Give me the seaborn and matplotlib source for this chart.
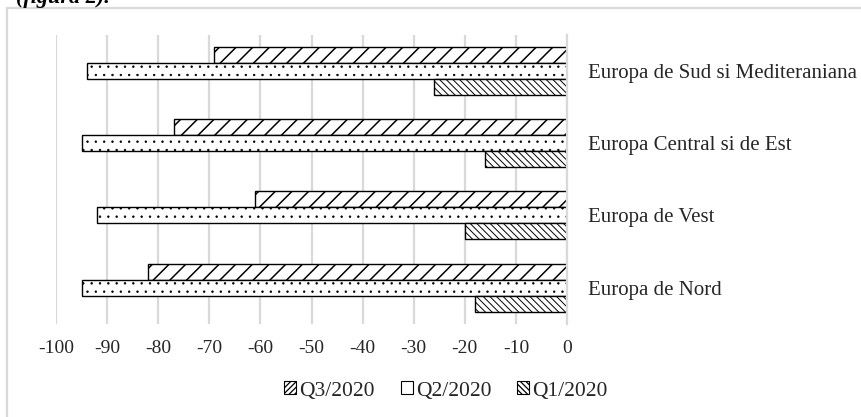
import matplotlib
matplotlib.use("Agg")
import matplotlib.pyplot as plt
from matplotlib.patches import Patch, Rectangle
import pandas as pd
import seaborn as sns

# Regions (top to bottom) and quarterly change, %
regions = ["Europa de Sud si Mediteraniana", "Europa Central si de Est",
           "Europa de Vest", "Europa de Nord"]
periods = ["Q3/2020", "Q2/2020", "Q1/2020"]
q3_2020 = [-69, -77, -61, -82]
q2_2020 = [-94, -95, -92, -95]
q1_2020 = [-26, -16, -20, -18]
x_ticks = list(range(-100, 1, 10))

series = {"Q3/2020": q3_2020, "Q2/2020": q2_2020, "Q1/2020": q1_2020}
df = pd.DataFrame(
    [(r, p, v) for p in periods for r, v in zip(regions, series[p])],
    columns=["region", "period", "value"],
)

sns.set_style("white")
plt.rcParams["font.family"] = ["Liberation Serif", "DejaVu Serif"]
plt.rcParams["hatch.linewidth"] = 0.9
plt.rcParams["hatch.color"] = "black"

W, H = 861, 417
fig = plt.figure(figsize=(W / 100, H / 100), dpi=100)
ax = fig.add_axes([56 / W, 1 - 323.5 / H, 511 / W, 288 / H])

sns.barplot(data=df, x="value", y="region", hue="period",
            order=regions, hue_order=periods, orient="h",
            width=2 / 3, palette=["white"] * 3, saturation=1,
            edgecolor="black", linewidth=1.0, legend=False, ax=ax)

hatches = ["//", "..", "\\\\\\\\\\"]
hatch_widths = [1.1, 0.5, 0.7]
for cont, h, hw in zip(ax.containers, hatches, hatch_widths):
    for bar in cont:
        bar.set_hatch(h)
        if hasattr(bar, "set_hatch_linewidth"):
            bar.set_hatch_linewidth(hw)

ax.set_xlim(-100, 0)
ax.set_xticks(x_ticks)
ax.set_xticklabels([str(t) for t in x_ticks])
ax.xaxis.grid(True, color="#d9d9d9", linewidth=1.6)
ax.yaxis.grid(False)
ax.set_axisbelow(True)
for side in ["left", "top", "bottom"]:
    ax.spines[side].set_visible(False)
ax.spines["right"].set_color("#d9d9d9")
ax.spines["right"].set_linewidth(1.6)
ax.yaxis.tick_right()
ax.tick_params(axis="y", length=0, pad=15, labelsize=15, labelcolor="#262626")
ax.tick_params(axis="x", length=0, pad=12, labelsize=14, labelcolor="#262626")
ax.set_xlabel("")
ax.set_ylabel("")

legend_hatches = ["//////", "", "\\\\\\\\\\\\"]
handles = [Patch(facecolor="white", edgecolor="black", hatch=h, label=p, linewidth=0.8)
           for p, h in zip(periods, legend_hatches)]
fig.legend(handles=handles, loc="center", bbox_to_anchor=(446 / W, 1 - 391 / H),
           ncol=3, frameon=False, handlelength=0.55, handleheight=0.55,
           handletextpad=0.15, columnspacing=1.2,
           prop={"size": 15.5}, labelcolor="#262626")

# chart-area frame
fig.patches.append(Rectangle((7 / W, -0.05), 1.0, 1 - 8 / H + 0.05,
                             transform=fig.transFigure, fill=False,
                             edgecolor="#d9d9d9", linewidth=1.6))

# caption line running above the chart
fig.text(110 / W, 1 - 3 / H, "(figura 2).", ha="right", va="baseline",
         fontsize=16, fontstyle="italic", fontweight="bold", color="black")

fig.savefig("out.png", dpi=100)
